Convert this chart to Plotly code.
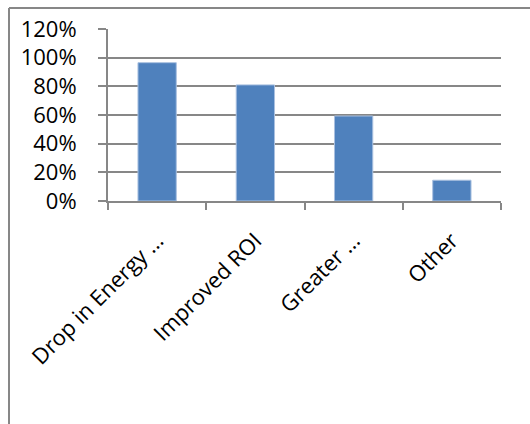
import plotly.graph_objects as go

categories = ["Drop in Energy …", "Improved ROI", "Greater …", "Other"]
values = [0.965, 0.81, 0.593, 0.145]
y_ticks = [0, 0.2, 0.4, 0.6, 0.8, 1.0, 1.2]

W, H = 530, 424
L, R, T, B = 108, 29, 29, 223
pw, ph = W - L - R, H - T - B

def px_x(px):
    return (px - L) / pw

def px_y(py):
    return (H - B - py) / ph

font = dict(family="Open Sans, Lato, sans-serif", size=22, color="#000000")
grey = "#878787"

fig = go.Figure(go.Bar(
    x=categories, y=values,
    marker=dict(color="#4F81BD", line=dict(color="#A9C0E0", width=1)),
    width=0.39,
))

fig.update_layout(
    width=W, height=H,
    margin=dict(l=L, r=R, t=T, b=B, pad=0),
    paper_bgcolor="white", plot_bgcolor="white",
    font=font,
    showlegend=False,
    bargap=0.61,
    shapes=[
        dict(type="line", xref="paper", yref="paper",
             x0=px_x(9), y0=px_y(8), x1=px_x(540), y1=px_y(8),
             line=dict(color=grey, width=2)),
        dict(type="line", xref="paper", yref="paper",
             x0=px_x(9), y0=px_y(8), x1=px_x(9), y1=px_y(440),
             line=dict(color=grey, width=2)),
    ],
)

fig.update_xaxes(
    type="category",
    showline=True, linecolor=grey, linewidth=2,
    ticks="outside", tickson="boundaries", ticklen=7, tickcolor=grey, tickwidth=2,
    tickangle=-45, tickfont=font, ticklabelstandoff=16,
    showgrid=False,
)
fig.update_yaxes(
    range=[0, 1.2], tickvals=y_ticks, tickformat=".0%",
    showline=True, linecolor=grey, linewidth=2,
    ticks="outside", ticklen=8, tickcolor=grey, tickwidth=2,
    showgrid=True, gridcolor=grey, gridwidth=2,
    zeroline=False, tickfont=font, ticklabelstandoff=17,
)

fig.write_html("out.html")
